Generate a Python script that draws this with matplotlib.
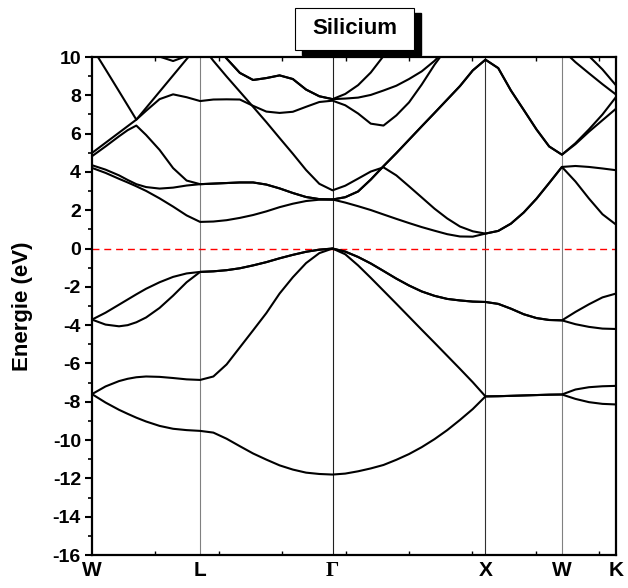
import numpy as np
import matplotlib
matplotlib.use("Agg")
import matplotlib.pyplot as plt
from matplotlib.patches import Rectangle
from matplotlib.ticker import MultipleLocator

plt.rcParams['font.family'] = ['Liberation Sans', 'DejaVu Sans']
plt.rcParams['font.weight'] = 'bold'
plt.rcParams['axes.unicode_minus'] = False

# --- chemin W-L-Gamma-X-W-K (longueurs en 2pi/a) ---
hs_labels = ["W", "L", "\u0393", "X", "W", "K"]
seg_length = [0.7071, 0.8660, 1.0, 0.5, 0.3536]

# positions (fraction de segment) ou les bandes ont ete relevees
frac_WL = [0.0, 0.125, 0.25, 0.33, 0.41, 0.5, 0.625, 0.75, 0.875, 1.0]
frac_LG = [0.1, 0.2, 0.3, 0.4, 0.5, 0.6, 0.7, 0.8, 0.9, 1.0]
frac_GX = [0.083, 0.167, 0.25, 0.333, 0.417, 0.5, 0.583, 0.667, 0.75, 0.833, 0.917, 1.0]
frac_XW = [0.167, 0.333, 0.5, 0.667, 0.833, 1.0]
frac_WK = [0.25, 0.5, 0.75, 1.0]

# --- energies (eV) : W-L | L-G | G-X | X-W | W-K ---
band_1 = [-7.60, -8.04, -8.42, -8.63, -8.83, -9.03, -9.26, -9.41, -9.48, -9.52,
          -9.61, -9.93, -10.32, -10.70, -11.02, -11.32, -11.54, -11.70, -11.77, -11.80,
          -11.75, -11.63, -11.48, -11.30, -11.03, -10.73, -10.37, -9.95, -9.48, -8.95, -8.38, -7.72,
          -7.71, -7.69, -7.67, -7.65, -7.63, -7.62,
          -7.85, -8.02, -8.11, -8.14]
band_2 = [-7.60, -7.20, -6.92, -6.80, -6.72, -6.68, -6.70, -6.76, -6.83, -6.86,
          -6.68, -6.05, -5.16, -4.27, -3.37, -2.35, -1.50, -0.76, -0.24, 0.0,
          -0.30, -0.88, -1.53, -2.20, -2.88, -3.56, -4.24, -4.92, -5.60, -6.28, -6.98, -7.72,
          -7.71, -7.69, -7.67, -7.65, -7.63, -7.62,
          -7.36, -7.24, -7.19, -7.17]
band_3 = [-3.71, -3.97, -4.06, -4.00, -3.85, -3.60, -3.10, -2.46, -1.76, -1.22,
          -1.19, -1.13, -1.03, -0.88, -0.71, -0.51, -0.33, -0.17, -0.06, 0.0,
          -0.16, -0.44, -0.78, -1.17, -1.57, -1.93, -2.24, -2.47, -2.63, -2.71, -2.77, -2.79,
          -2.89, -3.14, -3.43, -3.63, -3.73, -3.75,
          -3.95, -4.09, -4.18, -4.20]
band_4 = [-3.71, -3.35, -2.93, -2.66, -2.39, -2.10, -1.76, -1.48, -1.30, -1.22,
          -1.19, -1.13, -1.03, -0.88, -0.71, -0.51, -0.33, -0.17, -0.06, 0.0,
          -0.16, -0.44, -0.78, -1.17, -1.57, -1.93, -2.24, -2.47, -2.63, -2.71, -2.77, -2.79,
          -2.89, -3.14, -3.43, -3.63, -3.73, -3.75,
          -3.31, -2.91, -2.55, -2.35]
band_5 = [4.21, 3.95, 3.64, 3.45, 3.25, 3.01, 2.62, 2.19, 1.73, 1.39,
          1.41, 1.48, 1.60, 1.75, 1.94, 2.16, 2.34, 2.48, 2.55, 2.56,
          2.40, 2.21, 2.01, 1.78, 1.55, 1.33, 1.12, 0.93, 0.75, 0.63, 0.62, 0.78,
          0.92, 1.30, 1.88, 2.60, 3.42, 4.26,
          3.50, 2.61, 1.79, 1.25]
band_6 = [4.35, 4.12, 3.82, 3.58, 3.36, 3.21, 3.13, 3.18, 3.29, 3.36,
          3.39, 3.42, 3.45, 3.45, 3.34, 3.14, 2.90, 2.69, 2.58, 2.56,
          2.68, 2.98, 3.60, 4.30, 4.98, 5.68, 6.38, 7.08, 7.78, 8.48, 9.30, 9.86,
          9.42, 8.25, 7.24, 6.22, 5.33, 4.90,
          5.50, 6.22, 7.00, 7.91]
band_7 = [4.82, 5.33, 5.86, 6.18, 6.42, 5.93, 5.15, 4.20, 3.55, 3.36,
          3.39, 3.42, 3.45, 3.45, 3.34, 3.14, 2.90, 2.69, 2.58, 2.56,
          2.68, 2.98, 3.60, 4.30, 4.98, 5.68, 6.38, 7.08, 7.78, 8.48, 9.30, 9.86,
          9.42, 8.25, 7.24, 6.22, 5.33, 4.90,
          5.45, 6.10, 6.70, 7.30]
band_8 = [4.99, 5.52, 6.05, 6.39, 6.73, 7.34, 8.19, 9.04, 9.89, 10.70,
          9.80, 8.98, 8.19, 7.40, 6.60, 5.77, 4.95, 4.10, 3.38, 3.04,
          3.28, 3.65, 4.02, 4.24, 3.82, 3.25, 2.67, 2.08, 1.57, 1.15, 0.90, 0.78,
          0.92, 1.30, 1.88, 2.60, 3.42, 4.26,
          4.31, 4.26, 4.18, 4.09]
band_9 = [10.50, 9.36, 8.21, 7.47, 6.73, 7.19, 7.80, 8.05, 7.90, 7.70,
          7.78, 7.79, 7.78, 7.45, 7.15, 7.08, 7.14, 7.40, 7.65, 7.72,
          7.48, 7.05, 6.52, 6.42, 6.95, 7.63, 8.56, 9.60, 10.50, 11.30, 12.00, 12.50,
          12.20, 11.80, 11.50, 11.20, 10.80, 10.40,
          9.73, 9.15, 8.58, 8.04]
band_10 = [12.00, 11.60, 11.20, 10.90, 10.60, 10.30, 10.02, 9.79, 10.05, 11.50,
           10.70, 9.92, 9.17, 8.80, 8.90, 9.04, 8.85, 8.30, 7.95, 7.80,
           7.83, 7.88, 8.02, 8.25, 8.50, 8.85, 9.25, 9.80, 10.50, 11.20, 11.80, 12.30,
           12.60, 12.40, 12.20, 11.90, 11.60, 11.30,
           10.70, 10.05, 9.35, 8.52]
band_11 = [13.00, 12.80, 12.60, 12.50, 12.40, 12.20, 12.00, 11.80, 11.60, 11.50,
           10.70, 9.92, 9.17, 8.80, 8.90, 9.04, 8.85, 8.30, 7.95, 7.80,
           8.07, 8.53, 9.19, 10.05, 10.70, 11.40, 12.00, 12.50, 12.90, 13.20, 13.40, 13.50,
           13.40, 13.20, 13.00, 12.80, 12.60, 12.40,
           12.20, 12.00, 11.80, 11.60]

bands = [band_1, band_2, band_3, band_4, band_5, band_6,
         band_7, band_8, band_9, band_10, band_11]

# abscisse k le long du chemin
hs_k = np.concatenate([[0.0], np.cumsum(seg_length)])
fracs = [frac_WL, frac_LG, frac_GX, frac_XW, frac_WK]
k = np.concatenate([hs_k[i] + np.array(f) * seg_length[i] for i, f in enumerate(fracs)])

fig = plt.figure(figsize=(6.28, 5.88), dpi=100)
ax = fig.add_axes([92 / 628, 1 - 555 / 588, 524 / 628, 498 / 588])

for b in bands:
    ax.plot(k, b, color='black', lw=1.5, solid_joinstyle='round', zorder=3)

# lignes verticales aux points de haute symetrie
vcolors = [None, '#808080', '#202020', '#303030', '#808080', None]
for kk, c in zip(hs_k, vcolors):
    if c is not None:
        ax.axvline(kk, color=c, lw=0.8, zorder=1)

# niveau de Fermi
ax.axhline(0.0, color='red', lw=1.0, ls=(0, (5, 3.5)), zorder=2)

ax.set_xlim(hs_k[0], hs_k[-1])
ax.set_ylim(-16, 10)

ax.set_xticks(hs_k)
ax.set_xticklabels(hs_labels, fontsize=15, fontweight='bold')
for lab in ax.get_xticklabels():
    if lab.get_text() == "\u0393":
        lab.set_fontfamily('Liberation Serif')
ax.xaxis.set_minor_locator(MultipleLocator(0.4147))
ax.tick_params(axis='x', which='major', length=0, pad=4)
ax.tick_params(axis='x', which='minor', direction='in', length=3, width=1,
               top=True, bottom=True)

ax.yaxis.set_major_locator(MultipleLocator(2))
ax.yaxis.set_minor_locator(MultipleLocator(1))
ax.tick_params(axis='y', which='major', direction='out', length=5, width=1.5,
               labelsize=14, pad=3)
ax.tick_params(axis='y', which='minor', direction='out', length=3, width=1.2)
for lab in ax.get_yticklabels():
    lab.set_fontweight('bold')

for s in ax.spines.values():
    s.set_linewidth(1.6)

ax.set_ylabel('Energie (eV)', fontsize=16, fontweight='bold')
ax.yaxis.set_label_coords(-0.113, 0.5)

# cadre du titre avec ombre
fig.add_artist(Rectangle((302 / 628, 1 - 55 / 588), 119 / 628, 42 / 588,
                         transform=fig.transFigure, fc='black', ec='black', zorder=5))
fig.add_artist(Rectangle((295 / 628, 1 - 50 / 588), 119 / 628, 42 / 588,
                         transform=fig.transFigure, fc='white', ec='black', lw=0.8, zorder=6))
fig.text(354.5 / 628, 1 - 29 / 588, 'Silicium', fontsize=16, fontweight='bold',
         ha='center', va='center', zorder=7)

fig.savefig('out.png', dpi=100)
